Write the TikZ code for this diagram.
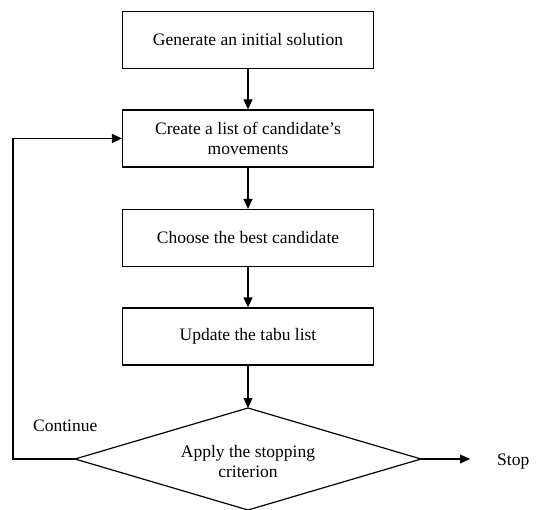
\documentclass[tikz,border=0pt]{standalone}
\usepackage{fontspec}
\setmainfont{Liberation Serif}
\usetikzlibrary{arrows.meta,shapes.geometric}
\begin{document}
\begin{tikzpicture}[x=1pt,y=-1pt,
  stepbox/.style={draw,line width=1.2pt,minimum width=251pt,minimum height=57pt,align=center,inner sep=0pt,font=\fontsize{17.5}{20}\selectfont},
  conn/.style={line width=1.2pt,-{Triangle[length=10pt,width=9pt]}},
  lbl/.style={font=\fontsize{17.5}{20}\selectfont,inner sep=0pt}]
\useasboundingbox (0,0) rectangle (546,510);
\node[stepbox] (b1) at (248,40) {Generate an initial solution};
\node[stepbox] (b2) at (248,138.5) {Create a list of candidate's\\movements};
\node[stepbox] (b3) at (248,238) {Choose the best candidate};
\node[stepbox] (b4) at (248,336.5) {Update the tabu list};
\draw[line width=1.2pt] (75,459) -- (248,408) -- (421,459) -- (248,510) -- cycle;
\node[lbl,align=center] (d) at (248,462) {Apply the stopping\\criterion};
\coordinate (dl) at (75,459);
\coordinate (dr) at (421,459);
\coordinate (dt) at (248,408);
\coordinate (cl) at (13,459);
\coordinate (stopend) at (470,459);
\node[lbl,anchor=west] (stop) at (497,462) {Stop};
\node[lbl,anchor=west] (cont) at (33,426) {Continue};
\draw[conn] (b1) -- (b2);
\draw[conn] (b2) -- (b3);
\draw[conn] (b3) -- (b4);
\draw[conn] (b4.south) -- (dt);
\draw[conn] (dl) -- (cl) |- (b2.west);
\draw[conn] (dr) -- (stopend);
\end{tikzpicture}
\end{document}
